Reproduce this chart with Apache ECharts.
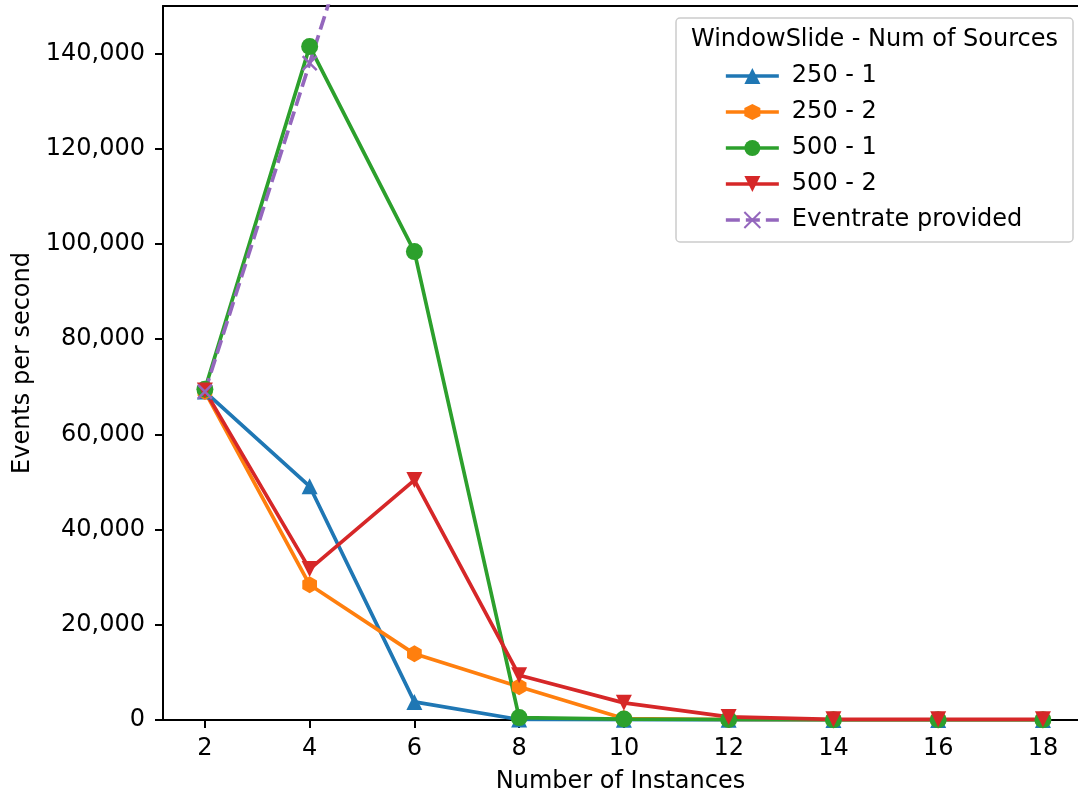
<!DOCTYPE html>
<html>
<head>
<meta charset="utf-8">
<script src="https://cdn.jsdelivr.net/npm/echarts@6/dist/echarts.min.js"></script>
<style>
  html, body { margin: 0; padding: 0; background: #fff; }
  #chart { width: 1078px; height: 796px; }
</style>
</head>
<body>
<div id="chart"></div>
<script>
// ---- data ----
const instances = [2, 4, 6, 8, 10, 12, 14, 16, 18];
const xTicks = [2, 4, 6, 8, 10, 12, 14, 16, 18];
const yTicks = [0, 20000, 40000, 60000, 80000, 100000, 120000, 140000];
const seriesNames = ['250 - 1', '250 - 2', '500 - 1', '500 - 2', 'Eventrate provided'];
const s250_1 = [69000, 49100, 3800, 100, 50, 30, 20, 20, 20];
const s250_2 = [69000, 28400, 13900, 7000, 300, 100, 50, 50, 50];
const s500_1 = [69500, 141500, 98400, 500, 200, 100, 50, 50, 50];
const s500_2 = [69200, 31700, 50400, 9400, 3600, 650, 150, 150, 150];
const eventrate = [69000, 138000, 207000, 276000, 345000, 414000, 483000, 552000, 621000];

const colors = ['#1f77b4', '#ff7f0e', '#2ca02c', '#d62728', '#9467bd'];
const FONT = 'DejaVu Sans';
const LW = 3.7;

function pairs(ys) { return instances.map((x, i) => [x, ys[i]]); }

function mkSeries(name, ys, color, symbol, size, extra) {
  return Object.assign({
    name: name,
    type: 'line',
    data: pairs(ys),
    symbol: symbol,
    symbolSize: size,
    showSymbol: true,
    showAllSymbol: true,
    clip: true,
    lineStyle: { color: color, width: LW },
    itemStyle: { color: color },
    emphasis: { disabled: true },
    z: 2
  }, extra || {});
}

const hexPath = 'path://M0,-1L0.866,-0.5L0.866,0.5L0,1L-0.866,0.5L-0.866,-0.5Z';
const downTri = 'path://M0,0L2,0L1,2Z';
const xPath = 'path://M0,0L10,10M10,0L0,10';

const X_MIN = 1.2, X_MAX = 18.67;

const chart = echarts.init(document.getElementById('chart'), null, { renderer: 'canvas' });
chart.setOption({
  animation: false,
  backgroundColor: '#ffffff',
  textStyle: { fontFamily: FONT, color: '#000' },
  grid: {
    left: 163, top: 6, right: 0, bottom: 76,
    outerBoundsMode: 'none',
    containLabel: false,
    show: false
  },
  title: {
    text: 'WindowSlide - Num of Sources',
    left: 686, top: 23, z: 70,
    textStyle: { fontFamily: FONT, fontSize: 24, fontWeight: 'normal', color: '#000' }
  },
  graphic: [{
    type: 'rect',
    shape: { x: 676, y: 18, width: 397, height: 224, r: 4 },
    style: { fill: 'rgba(255,255,255,0.8)', stroke: '#cccccc', lineWidth: 1.5 },
    z: 50
  }],
  legend: {
    orient: 'vertical',
    left: 719, top: 59,
    itemWidth: 53, itemHeight: 20, itemGap: 12,
    lineStyle: { width: LW },
    textStyle: { fontFamily: FONT, fontSize: 24, color: '#000', lineHeight: 24, padding: [0, 0, 0, 8] },
    data: seriesNames,
    z: 60,
    selectedMode: false
  },
  xAxis: [{
    type: 'value',
    min: X_MIN, max: X_MAX,
    name: 'Number of Instances',
    nameLocation: 'middle',
    nameGap: 50,
    nameTextStyle: { fontFamily: FONT, fontSize: 24, color: '#000' },
    axisLine: { show: true, onZero: false, lineStyle: { color: '#000', width: 2 } },
    axisTick: { show: true, length: 8, lineStyle: { color: '#000', width: 2 }, customValues: xTicks },
    axisLabel: { fontFamily: FONT, fontSize: 24, color: '#000', margin: 17, customValues: xTicks },
    splitLine: { show: false }
  }, {
    type: 'value',
    position: 'top',
    min: X_MIN, max: X_MAX,
    axisLine: { show: true, onZero: false, lineStyle: { color: '#000', width: 2 } },
    axisTick: { show: false },
    axisLabel: { show: false },
    splitLine: { show: false }
  }],
  yAxis: {
    type: 'value',
    min: 0, max: 150000,
    name: 'Events per second',
    nameLocation: 'middle',
    nameGap: 127,
    nameRotate: 90,
    nameTextStyle: { fontFamily: FONT, fontSize: 24, color: '#000' },
    axisLine: { show: true, lineStyle: { color: '#000', width: 2 } },
    axisTick: { show: true, length: 8, lineStyle: { color: '#000', width: 2 }, customValues: yTicks },
    axisLabel: {
      fontFamily: FONT, fontSize: 24, color: '#000', margin: 18, customValues: yTicks,
      formatter: v => Number(v).toLocaleString('en-US')
    },
    splitLine: { show: false }
  },
  series: [
    mkSeries(seriesNames[0], s250_1, colors[0], 'triangle', 16),
    mkSeries(seriesNames[1], s250_2, colors[1], hexPath, 17, { symbolKeepAspect: true }),
    mkSeries(seriesNames[2], s500_1, colors[2], 'circle', 17),
    mkSeries(seriesNames[3], s500_2, colors[3], downTri, 16),
    mkSeries(seriesNames[4], eventrate, colors[4], xPath, 14, {
      lineStyle: { color: colors[4], width: LW, type: [14, 6] },
      itemStyle: { color: colors[4], borderColor: colors[4], borderWidth: 2.4 }
    })
  ]
});
</script>
</body>
</html>
